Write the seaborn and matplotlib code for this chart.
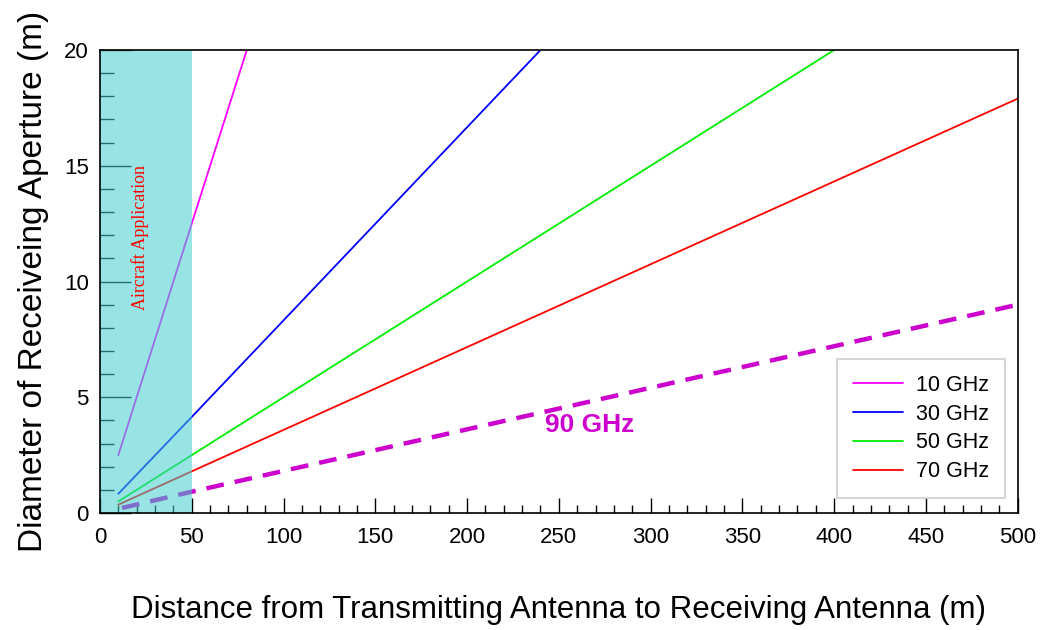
import pandas as pd
import seaborn as sns
import matplotlib.pyplot as plt
from matplotlib.ticker import MultipleLocator

# ── Data ──────────────────────────────────────────────────────────────────
freqs      = ["10 GHz", "30 GHz", "50 GHz", "70 GHz"]
dist_10    = [10, 50, 80]
diam_10    = [2.5, 12.5, 20.0]
dist_30    = [10, 50, 240]
diam_30    = [0.83, 4.15, 20.0]
dist_50    = [10, 50, 400]
diam_50    = [0.5, 2.5, 20.0]
dist_70    = [10, 50, 500]
diam_70    = [0.36, 1.8, 17.9]
dist_90    = [12, 50, 500]
diam_90    = [0.22, 0.92, 9.0]

colors = {"10 GHz": "#ff00ff", "30 GHz": "#0000ff",
          "50 GHz": "#00ee00", "70 GHz": "#ff0000"}

rows = []
for f, xs, ys in zip(freqs, [dist_10, dist_30, dist_50, dist_70],
                     [diam_10, diam_30, diam_50, diam_70]):
    for x, y in zip(xs, ys):
        rows.append(dict(freq=f, dist=x, diam=y))
df = pd.DataFrame(rows)

# ── Plot ──────────────────────────────────────────────────────────────────
sns.set_theme(style="white")
plt.rcParams["font.family"] = ["Liberation Sans", "DejaVu Sans"]
plt.rcParams.update({"text.color": "black", "axes.labelcolor": "black",
                     "xtick.color": "black", "ytick.color": "black"})

fig = plt.figure(figsize=(10.59, 6.30), dpi=100)
ax = fig.add_axes([0.0944, 0.1857, 0.8666, 0.7349])

sns.lineplot(data=df, x="dist", y="diam", hue="freq", palette=colors,
             linewidth=1.3, ax=ax, sort=False, estimator=None)
ax.plot(dist_90, diam_90, color="#cc00cc", lw=3.2, ls=(0, (4, 2.5)))

# aircraft region (drawn over the lines, semi-transparent)
ax.axvspan(0, 50, color="#41cdcd", alpha=0.54, lw=0, zorder=5)
ax.text(22, 11.9, "Aircraft Application", rotation=90, color="red",
        family="Liberation Serif", fontsize=13, ha="center", va="center",
        zorder=6)
ax.text(267, 3.8, "90 GHz", color="#cc00cc", fontsize=19,
        fontweight="bold", ha="center", va="center")

ax.set_xlim(0, 500)
ax.set_ylim(0, 20)
ax.xaxis.set_major_locator(MultipleLocator(50))
ax.xaxis.set_minor_locator(MultipleLocator(10))
ax.yaxis.set_major_locator(MultipleLocator(5))
ax.yaxis.set_minor_locator(MultipleLocator(1))
ax.tick_params(axis="x", which="major", direction="in", length=11,
               width=1, color="black", labelcolor="black", labelsize=16, pad=10)
ax.tick_params(axis="x", which="minor", direction="in", length=6,
               width=1, color="black")
ax.tick_params(axis="y", which="major", direction="in", length=22,
               width=1, color="black", labelcolor="black", labelsize=16, pad=8)
ax.tick_params(axis="y", which="minor", direction="in", length=10,
               width=1, color="black")
ax.tick_params(left=True, bottom=True, top=False, right=False, which="both")
for s in ax.spines.values():
    s.set_color("black")
    s.set_linewidth(1.2)
    s.set_zorder(7)

ax.set_xlabel("Distance from Transmitting Antenna to Receiving Antenna (m)",
              fontsize=22.5, labelpad=34, color="black")
ax.set_ylabel("Diameter of Receiveing Aperture (m)", fontsize=24,
              labelpad=11, color="black")

leg = ax.legend(title=None, loc="lower right", bbox_to_anchor=(0.986, 0.032),
                fontsize=15.5, frameon=True, fancybox=False, handlelength=2.3,
                borderpad=0.75, labelspacing=0.36, handletextpad=0.6,
                borderaxespad=0)
leg.get_frame().set_edgecolor("#cccccc")
leg.get_frame().set_linewidth(1.5)
leg.set_zorder(8)
for t in leg.get_texts():
    t.set_color("black")

fig.savefig("out.png", dpi=100)
